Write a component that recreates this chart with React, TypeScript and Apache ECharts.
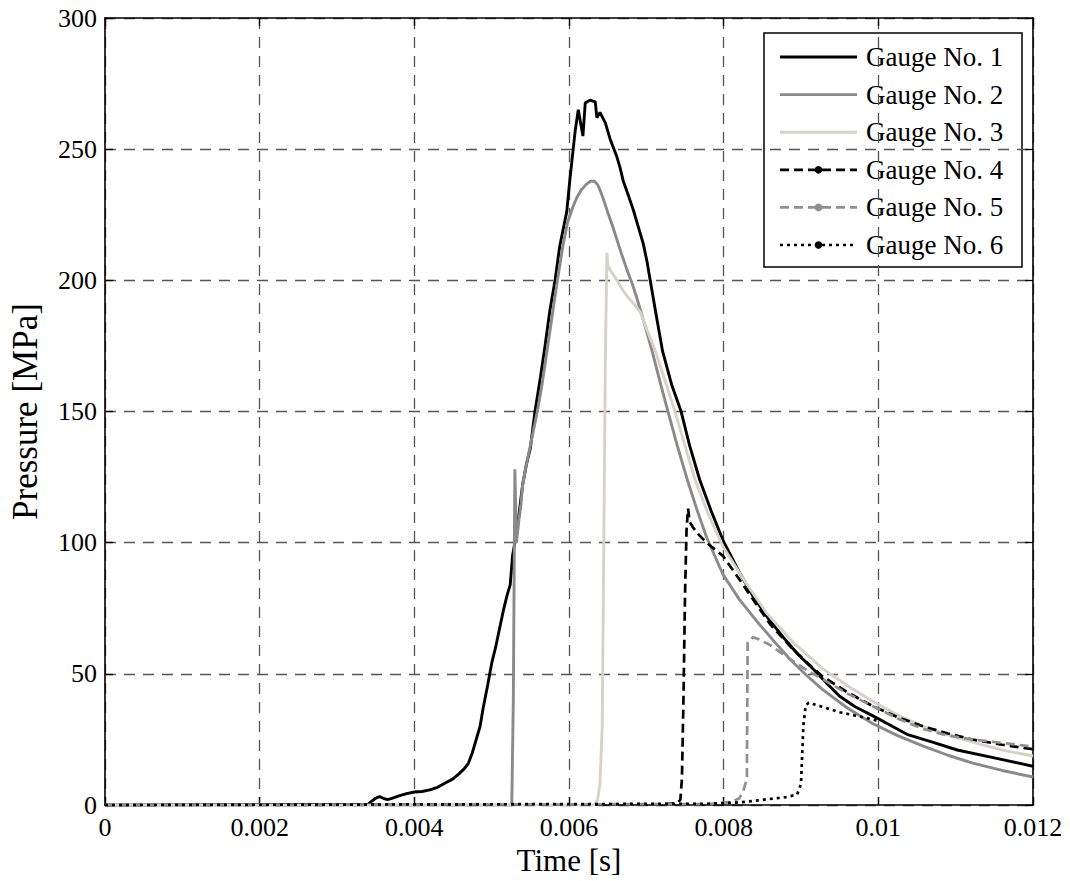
import { useEffect, useRef } from "react";
import * as echarts from "echarts";

const seriesNames = ["Gauge No. 1", "Gauge No. 2", "Gauge No. 3", "Gauge No. 4", "Gauge No. 5", "Gauge No. 6"];

const xTickLabels = ["0", "0.002", "0.004", "0.006", "0.008", "0.01", "0.012"];
const yTickLabels = ["0", "50", "100", "150", "200", "250", "300"];

const gauge1: [number, number][] = [
  [0, 0], [0.0034, 0.3], [0.00345, 1.5], [0.0035, 2.6], [0.00355, 3.2], [0.0036, 2.6], [0.00365, 2.1],
  [0.0037, 2.5], [0.0038, 3.5], [0.0039, 4.4], [0.004, 5], [0.0041, 5.2], [0.0042, 5.8], [0.0043, 6.8],
  [0.0044, 8.4], [0.0045, 10], [0.00458, 12], [0.00465, 14], [0.0047, 16], [0.00475, 20], [0.0048, 25],
  [0.00485, 30], [0.00489, 37], [0.00495, 46], [0.005, 54], [0.00505, 60], [0.0051, 67], [0.00515, 74],
  [0.0052, 80], [0.00524, 84], [0.00527, 95], [0.0053, 100], [0.00535, 110], [0.0054, 122], [0.00545, 130],
  [0.0055, 136], [0.00556, 150], [0.00563, 163], [0.00569, 175], [0.00575, 188], [0.00582, 200],
  [0.00588, 213], [0.00597, 226], [0.00601, 238], [0.00608, 257], [0.00612, 265], [0.00618, 255],
  [0.00621, 267.6], [0.00627, 268.7], [0.00634, 268], [0.00636, 262], [0.0064, 264], [0.00647, 260],
  [0.00653, 254], [0.00662, 247], [0.00666, 243], [0.0067, 238], [0.00676, 233], [0.00683, 227],
  [0.0069, 220], [0.00696, 214], [0.00701, 207], [0.00705, 200], [0.00712, 188], [0.00721, 173],
  [0.00733, 160], [0.00745, 150], [0.00756, 137], [0.00769, 124], [0.00784, 112], [0.00799, 101],
  [0.00818, 90], [0.00838, 79.6], [0.00858, 71], [0.00877, 64], [0.00896, 57.5], [0.00916, 51.8],
  [0.00933, 46.5], [0.0095, 41.5], [0.0097, 37.5], [0.00993, 34], [0.01015, 30.5], [0.01037, 27],
  [0.0107, 24], [0.01102, 21], [0.0115, 18], [0.012, 14.8],
];

const gauge2: [number, number][] = [
  [0, 0], [0.00526, 0], [0.00528, 40], [0.0053, 128], [0.00532, 100], [0.00535, 108], [0.00538, 115],
  [0.0054, 122], [0.00545, 130], [0.0055, 137], [0.00559, 150], [0.00565, 160], [0.0057, 170],
  [0.00575, 180], [0.00579, 188], [0.00585, 200], [0.00592, 213], [0.00598, 222], [0.00605, 228],
  [0.0061, 231.5], [0.00616, 234.5], [0.00622, 236.5], [0.00628, 237.8], [0.00633, 237.8],
  [0.00637, 236.5], [0.0064, 234.5], [0.00645, 230.5], [0.0065, 226], [0.00656, 221], [0.00662, 215.5],
  [0.00668, 210], [0.00675, 204], [0.00682, 198.5], [0.00688, 193], [0.00696, 185], [0.00707, 173.6],
  [0.00718, 161], [0.00728, 150], [0.0074, 137], [0.00753, 124], [0.00765, 113], [0.00778, 102],
  [0.00799, 88], [0.0082, 78.5], [0.00843, 70], [0.00865, 62.5], [0.00886, 55.5], [0.00907, 49.5],
  [0.00928, 44], [0.0096, 37], [0.00993, 31], [0.01025, 26.5], [0.01058, 22.5], [0.0109, 19],
  [0.01122, 16], [0.0116, 13.2], [0.012, 10.7],
];

const gauge3: [number, number][] = [
  [0, 0], [0.00633, 0], [0.00637, 2], [0.0064, 8], [0.00643, 30], [0.00645, 100], [0.00647, 170],
  [0.00649, 210.5], [0.0065, 206], [0.00653, 204], [0.0066, 201], [0.00668, 197], [0.00675, 194],
  [0.00684, 191], [0.00692, 188], [0.00701, 181], [0.00711, 173.6], [0.00724, 162], [0.00737, 150],
  [0.0075, 137], [0.00763, 124], [0.0078, 111], [0.00799, 98.6], [0.00828, 85], [0.00856, 73],
  [0.0089, 62], [0.00928, 52], [0.0096, 45.5], [0.00993, 39.5], [0.01025, 34.3], [0.01058, 30],
  [0.0109, 26.8], [0.01122, 24], [0.0116, 21], [0.012, 18.7],
];

const gauge4: [number, number][] = [
  [0, 0], [0.0072, 0.3], [0.0074, 0.8], [0.00744, 2], [0.00746, 10], [0.00748, 40], [0.0075, 80],
  [0.00752, 105], [0.00754, 113], [0.00756, 108], [0.0076, 106], [0.00768, 103], [0.00778, 100],
  [0.00799, 95], [0.00818, 87], [0.00838, 78.4], [0.0086, 69], [0.00886, 60.5], [0.00907, 54.5],
  [0.00928, 49], [0.0096, 43], [0.00993, 37.7], [0.01025, 33.5], [0.01058, 30], [0.0109, 27.3],
  [0.01122, 25], [0.0116, 23], [0.012, 21.3],
];

const gauge5: [number, number][] = [
  [0, 0], [0.0078, 0.4], [0.0081, 1.2], [0.0082, 2.5], [0.00825, 5], [0.0083, 10], [0.00831, 62],
  [0.00838, 64], [0.00847, 63], [0.0086, 61], [0.00886, 55.6], [0.00907, 51.5], [0.00928, 48],
  [0.0096, 42.5], [0.00993, 37.7], [0.01025, 33], [0.01058, 29], [0.0109, 26.5], [0.01122, 25],
  [0.0116, 23.7], [0.012, 22.3],
];

const gauge6: [number, number][] = [
  [0, 0], [0.0078, 0.5], [0.0082, 1], [0.0085, 2], [0.0088, 3], [0.00895, 4], [0.009, 8],
  [0.00903, 30], [0.00906, 38], [0.0091, 39], [0.00925, 37.7], [0.0095, 35.4], [0.0098, 33.5],
  [0.01002, 32],
];

const gaugeData = [gauge1, gauge2, gauge3, gauge4, gauge5, gauge6];

const lineStyles = [
  { color: "#000000", type: "solid", width: 2.9, dot: false },
  { color: "#8a8a8a", type: "solid", width: 2.9, dot: false },
  { color: "#d6d2ca", type: "solid", width: 2.9, dot: false },
  { color: "#000000", type: [9, 5], width: 2.7, dot: true },
  { color: "#8f8f8f", type: [9, 5], width: 2.7, dot: true },
  { color: "#000000", type: [3, 4], width: 2.7, dot: true },
];

const FONT = "Liberation Serif";

export default function App() {
  const ref = useRef<HTMLDivElement>(null);

  useEffect(() => {
    const chart = echarts.init(ref.current!, null, { renderer: "svg" });

    const gridLine = { show: true, lineStyle: { color: "#555555", width: 1.3, type: [11, 8] as any } };
    const axisLine = { show: true, onZero: false, lineStyle: { color: "#000000", width: 1.6 } };
    const tick = { show: true, inside: true, length: 8, lineStyle: { color: "#000000", width: 1.3 } };

    const legendX1 = 780;
    const legendX2 = 857;
    const legendTop = 57;
    const legendStep = 37.6;
    const legendChildren: any[] = [
      {
        type: "rect",
        shape: { x: 764, y: 33, width: 258, height: 234 },
        style: { fill: "#ffffff", stroke: "#000000", lineWidth: 1.5 },
      },
    ];
    seriesNames.forEach((name, i) => {
      const y = legendTop + i * legendStep;
      const s = lineStyles[i];
      legendChildren.push({
        type: "line",
        shape: { x1: legendX1, y1: y, x2: legendX2, y2: y },
        style: {
          stroke: s.color,
          lineWidth: s.width,
          lineDash: Array.isArray(s.type) ? s.type : null,
        },
      });
      if (s.dot) {
        legendChildren.push({
          type: "circle",
          shape: { cx: (legendX1 + legendX2) / 2, cy: y, r: 3.8 },
          style: { fill: s.color },
        });
      }
      legendChildren.push({
        type: "text",
        x: 866,
        y: y,
        style: {
          text: name,
          fill: "#000000",
          font: `27px "${FONT}"`,
          verticalAlign: "middle",
          align: "left",
        },
      });
    });

    const option: any = {
      animation: false,
      backgroundColor: "#ffffff",
      textStyle: { fontFamily: FONT },
      grid: { left: 105, right: 37, top: 18, bottom: 75, containLabel: false },
      xAxis: [
        {
          type: "value",
          min: 0,
          max: 0.012,
          interval: 0.002,
          name: "Time [s]",
          nameLocation: "middle",
          nameGap: 38,
          nameTextStyle: { fontFamily: FONT, fontSize: 31, color: "#000000" },
          axisLine,
          axisTick: tick,
          splitLine: gridLine,
          axisLabel: {
            fontFamily: FONT,
            fontSize: 26,
            color: "#000000",
            margin: 9,
            formatter: (v: number) => xTickLabels[Math.round(v / 0.002)] ?? "",
          },
        },
        {
          type: "value",
          position: "top",
          min: 0,
          max: 0.012,
          interval: 0.002,
          axisLine,
          axisTick: tick,
          splitLine: { show: false },
          axisLabel: { show: false },
        },
      ],
      yAxis: [
        {
          type: "value",
          min: 0,
          max: 300,
          interval: 50,
          name: "Pressure [MPa]",
          nameLocation: "middle",
          nameGap: 62,
          nameTextStyle: { fontFamily: FONT, fontSize: 35, color: "#000000" },
          axisLine,
          axisTick: tick,
          splitLine: gridLine,
          axisLabel: {
            fontFamily: FONT,
            fontSize: 26,
            color: "#000000",
            margin: 8,
            formatter: (v: number) => yTickLabels[Math.round(v / 50)] ?? "",
          },
        },
        {
          type: "value",
          position: "right",
          min: 0,
          max: 300,
          interval: 50,
          axisLine,
          axisTick: tick,
          splitLine: { show: false },
          axisLabel: { show: false },
        },
      ],
      series: seriesNames.map((name, i) => ({
        name,
        type: "line",
        data: gaugeData[i],
        xAxisIndex: 0,
        yAxisIndex: 0,
        symbol: "none",
        showSymbol: false,
        smooth: false,
        clip: true,
        lineStyle: {
          color: lineStyles[i].color,
          width: lineStyles[i].width,
          type: lineStyles[i].type,
        },
        itemStyle: { color: lineStyles[i].color },
        emphasis: { disabled: true },
      })),
      graphic: [{ type: "group", children: legendChildren }],
    };

    chart.setOption(option);
    return () => chart.dispose();
  }, []);

  return (
    <div
      ref={ref}
      style={{ position: "absolute", left: 0, top: 0, width: 1070, height: 881, background: "#ffffff" }}
    />
  );
}
